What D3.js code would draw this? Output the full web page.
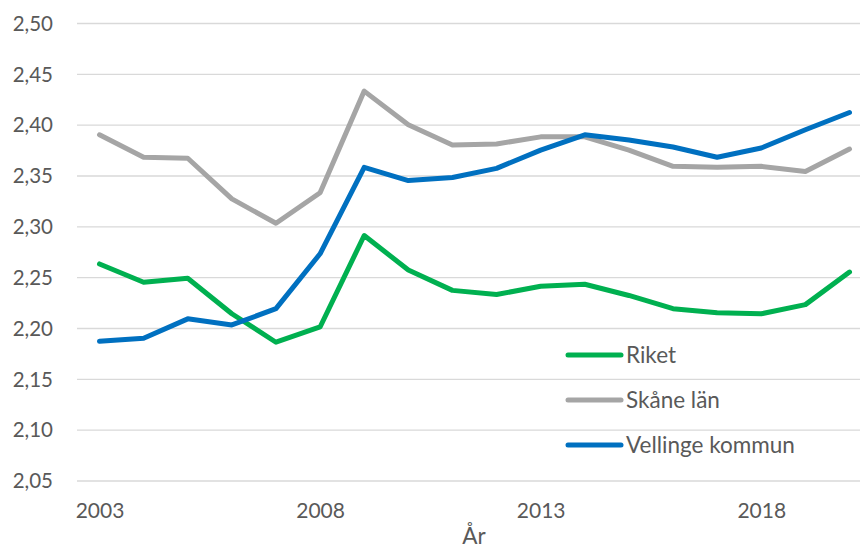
<!DOCTYPE html>
<html>
<head>
<meta charset="utf-8">
<script src="https://cdn.jsdelivr.net/npm/d3@7"></script>
<style>
  body { margin: 0; background: #fff; }
  #chart text { font-family: Lato, "Open Sans", sans-serif; fill: #595959; }
</style>
</head>
<body>
<div id="chart"></div>
<script>
const years = d3.range(2003, 2021);
const yTicks = [2.05, 2.10, 2.15, 2.20, 2.25, 2.30, 2.35, 2.40, 2.45, 2.50];
const xTickLabels = [2003, 2008, 2013, 2018];
const seriesNames = ["Riket", "Skåne län", "Vellinge kommun"];
const riket = [2.263, 2.245, 2.249, 2.214, 2.186, 2.201, 2.291, 2.257, 2.237, 2.233, 2.241, 2.243, 2.232, 2.219, 2.215, 2.214, 2.223, 2.255];
const skane = [2.390, 2.368, 2.367, 2.327, 2.303, 2.333, 2.433, 2.400, 2.380, 2.381, 2.388, 2.388, 2.375, 2.359, 2.358, 2.359, 2.354, 2.376];
const vellinge = [2.187, 2.190, 2.209, 2.203, 2.219, 2.273, 2.358, 2.345, 2.348, 2.357, 2.375, 2.390, 2.385, 2.378, 2.368, 2.377, 2.395, 2.412];

function draw() {
  const width = 860;
  const height = 552;
  const colors = ["#00b050", "#a5a5a5", "#0070c0"];
  const series = [riket, skane, vellinge];

  const svg = d3.select("#chart").append("svg")
    .attr("width", width)
    .attr("height", height);

  const x = d3.scalePoint().domain(years).range([99.5, 849.5]);
  const y = d3.scaleLinear().domain([2.05, 2.50]).range([480.5, 23]);

  const sv = d3.formatLocale({decimal: ",", thousands: " ", grouping: [3], currency: ["", " kr"]});
  const fmt = sv.format(".2f");

  // grid + y labels
  const yAxis = svg.append("g")
    .attr("transform", "translate(77,0)")
    .call(d3.axisLeft(y).tickValues(yTicks).tickFormat(fmt).tickSize(-783).tickPadding(24));
  yAxis.select(".domain").remove();
  yAxis.selectAll("line").attr("stroke", "#d9d9d9").attr("stroke-width", 1.3);
  yAxis.selectAll("text").attr("font-size", 20.5).attr("dy", "0.35em");

  // x labels
  const xAxis = svg.append("g")
    .attr("transform", "translate(0,480.5)")
    .call(d3.axisBottom(x).tickValues(xTickLabels).tickSize(0).tickPadding(23));
  xAxis.select(".domain").remove();
  xAxis.selectAll("text").attr("font-size", 21);

  svg.append("text")
    .attr("x", 474)
    .attr("y", 544)
    .attr("text-anchor", "middle")
    .attr("font-size", 22.5)
    .text("År");

  const line = d3.line()
    .x((d, i) => x(years[i]))
    .y(d => y(d));

  svg.append("g")
    .selectAll("path")
    .data(series)
    .join("path")
      .attr("fill", "none")
      .attr("stroke", (d, i) => colors[i])
      .attr("stroke-width", 5)
      .attr("stroke-linejoin", "round")
      .attr("stroke-linecap", "round")
      .attr("d", line);

  // legend
  const legend = svg.append("g")
    .selectAll("g")
    .data(seriesNames)
    .join("g")
      .attr("transform", (d, i) => `translate(568,${355 + i * 45})`);
  legend.append("line")
    .attr("x1", 0).attr("x2", 53)
    .attr("stroke", (d, i) => colors[i])
    .attr("stroke-width", 5)
    .attr("stroke-linecap", "round");
  legend.append("text")
    .attr("x", 58)
    .attr("dy", "0.35em")
    .attr("font-size", 22.5)
    .text(d => d);
}
draw();
</script>
</body>
</html>
